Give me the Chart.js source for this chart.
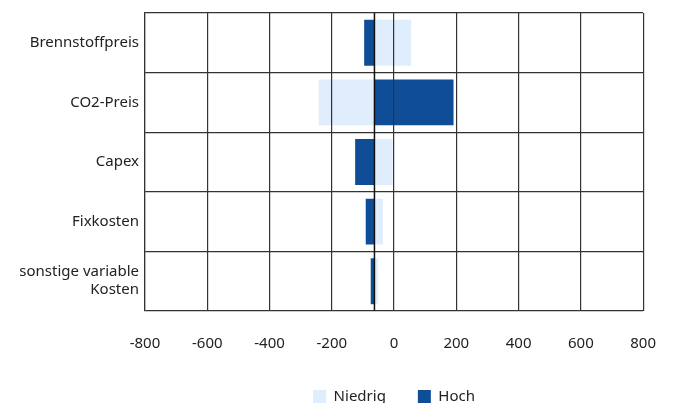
<!DOCTYPE html>
<html>
<head>
<meta charset="utf-8">
<script src="https://cdn.jsdelivr.net/npm/chart.js@4"></script>
<style>
  html, body { margin: 0; padding: 0; background: #fff; }
  #wrap { width: 680px; height: 403px; }
</style>
</head>
<body>
<div id="wrap"><canvas id="tornado"></canvas></div>
<script>
// Kategorien und Werte
const categories = ['Brennstoffpreis', 'CO2-Preis', 'Capex', 'Fixkosten', ['sonstige variable', 'Kosten']];
const basis = -63;
const niedrig = [55, -242, -5, -36, -52];
const hoch = [-96, 191, -125, -91, -75];
const xTicks = [-800, -600, -400, -200, 0, 200, 400, 600, 800];

// Basislinie ueber die Balken zeichnen
const basisLine = {
    id: 'basisLine',
    afterDatasetsDraw(chart) {
        let x = chart.scales.x.getPixelForValue(basis);
        let ctx = chart.ctx;
        ctx.save();
        ctx.strokeStyle = '#111';
        ctx.lineWidth = 1.5;
        ctx.beginPath();
        ctx.moveTo(x, chart.chartArea.top);
        ctx.lineTo(x, chart.chartArea.bottom);
        ctx.stroke();
        ctx.restore();
    }
};

let tornadoChart = new Chart(
    document.getElementById("tornado"),
    {
        type: 'bar',
        data: {
            labels: categories,
            datasets: [{
                label: 'Niedrig',
                data: niedrig.map((v) => { return [basis, v]; }),
                backgroundColor: '#e0edfc',
                grouped: false,
                barPercentage: 0.77,
                categoryPercentage: 1
            }, {
                label: 'Hoch',
                data: hoch.map((v) => { return [basis, v]; }),
                backgroundColor: '#0f4d97',
                grouped: false,
                barPercentage: 0.77,
                categoryPercentage: 1
            }]
        },
        options: {
            indexAxis: 'y',
            responsive: true,
            maintainAspectRatio: false,
            animation: false,
            layout: { padding: { top: 13, right: 34, left: 6, bottom: -11 } },
            plugins: {
                tooltip: { enabled: false },
                legend: {
                    position: 'bottom',
                    fullSize: false,
                    labels: {
                        boxWidth: 13,
                        boxHeight: 13,
                        padding: 32,
                        color: '#222',
                        font: { family: 'Noto Sans', size: 15 }
                    }
                }
            },
            scales: {
                x: {
                    min: -800,
                    max: 800,
                    afterBuildTicks: (axis) => { axis.ticks = xTicks.map((v) => { return {value: v}; }); },
                    afterFit: (axis) => { axis.height = 46; },
                    grid: { color: '#333', lineWidth: 1.2, drawTicks: false, z: 1 },
                    border: { display: false },
                    ticks: {
                        padding: 24,
                        color: '#222',
                        font: { family: 'Noto Sans', size: 15 }
                    }
                },
                y: {
                    afterFit: (axis) => {
                        axis.width = 139;
                        axis.paddingTop = 0;
                        axis.paddingBottom = 0;
                    },
                    grid: { color: '#333', lineWidth: 1.2, drawTicks: false, offset: true },
                    border: { color: '#333', width: 1.2 },
                    ticks: {
                        padding: 6,
                        color: '#222',
                        font: { family: 'Noto Sans', size: 15 }
                    }
                }
            }
        },
        plugins: [basisLine]
    });
</script>
</body>
</html>
